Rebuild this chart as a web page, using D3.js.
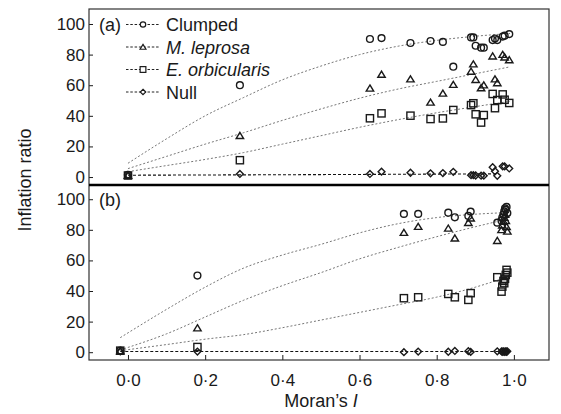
<!DOCTYPE html>
<html>
<head>
<meta charset="utf-8">
<script src="https://cdn.jsdelivr.net/npm/d3@7"></script>
<style>
  html, body { margin: 0; padding: 0; background: #fff; }
  svg { display: block; font-family: "Liberation Sans", Arial, sans-serif; }
</style>
</head>
<body>
<svg id="chart" width="561" height="414"></svg>
<script>
// ---- Panel (a): observed inflation ratios by Moran's I ----
const xA = [0, 0.29, 0.627, 0.657, 0.732, 0.784, 0.816, 0.843, 0.889, 0.895, 0.901, 0.915, 0.922, 0.945, 0.951, 0.957, 0.971, 0.976, 0.988];
const clumpedA = [1.5, 60, 90.2, 90.8, 87.6, 88.9, 88.3, 72.1, 91.2, 91.2, 85.8, 84.5, 84.5, 89.5, 90.5, 89.5, 91.8, 92.4, 93.4];
const leprosaA = [1, 27, 58, 67, 64, 48.8, 54.7, 60.4, 69, 73.8, 63.6, 58.2, 60.1, 79, 64, 61.5, 80, 78.3, 76.5];
const orbicularisA = [1, 11, 38.4, 41.6, 40.1, 37.9, 38.3, 43.8, 47, 48.2, 41, 35.6, 40.5, 54.3, 45, 50.3, 54, 50.5, 48.4];
const nullA = [1.3, 2, 2, 3.5, 2.8, 2.4, 2.6, 3.4, 1.2, 1.2, 1.0, 0.9, 0.9, 6.4, 3.8, 0.8, 7.0, 6.9, 5.6];

// Fitted curves for panel (a)
const fitXA = [0, 0.1, 0.2, 0.3, 0.4, 0.5, 0.6, 0.7, 0.8, 0.9, 0.99];
const fitClumpedA = [9, 25, 40, 52, 63.5, 72.5, 80, 85.5, 89.3, 92, 93.8];
const fitLeprosaA = [5.5, 13.5, 21.5, 29, 37, 44.5, 51.5, 57.5, 62.5, 67.5, 72];
const fitOrbicularisA = [3.5, 7.5, 11.5, 16, 21.5, 27, 32.5, 37.5, 42, 46, 49.5];
const fitNullXA = [0, 0.5, 0.96];
const fitNullA = [1.2, 1.6, 2.1];

// ---- Panel (b) ----
const xB = [-0.02, 0.18, 0.715, 0.752, 0.83, 0.847, 0.882, 0.888, 0.957, 0.968, 0.970, 0.973, 0.975, 0.977, 0.979, 0.981, 0.983];
const clumpedB = [1, 50.1, 90.4, 90.4, 91.2, 88.2, 89.1, 91.9, 84.7, 86, 88, 90, 92, 94, 93, 95, 91];
const leprosaB = [0.8, 15.8, 78.2, 82.1, 81, 74.5, 84.7, 87.6, 72.9, 80, 83, 85.5, 88, 90, 86, 82, 79];
const orbicularisB = [1, 3.4, 35.3, 35.9, 38.1, 35.9, 34.2, 38.6, 49, 39.6, 42.9, 46.6, 45.1, 48, 50.5, 53.8, 52];
const nullB = [0.5, 0.4, 0, 0.4, 0.3, 0.8, 0.7, 0.2, 0.6, 0.5, 0.3, 0.6, 0.2, 0.4, 0.5, 0.3, 0.6];

// Fitted curves for panel (b)
const fitXB = [-0.02, 0.1, 0.2, 0.3, 0.4, 0.5, 0.6, 0.7, 0.8, 0.9, 0.975];
const fitClumpedB = [9.5, 28, 42.5, 55, 63.5, 70.5, 78, 84, 88, 90.2, 91.2];
const fitLeprosaB = [1.5, 12, 23, 34, 43.5, 52, 61, 68.5, 75.5, 82, 86.5];
const fitOrbicularisB = [1, 5, 8.5, 11.5, 16, 21, 26, 31, 36, 42.5, 48.5];
const fitNullXB = [-0.02, 0.985];
const fitNullB = [0.5, 0.5];

// Axis ticks and legend
const xTicks = [0, 0.2, 0.4, 0.6, 0.8, 1.0];
const yTicks = [0, 20, 40, 60, 80, 100];
const seriesNames = ["Clumped", "M. leprosa", "E. orbicularis", "Null"];
const seriesItalic = [false, true, true, false];
const seriesShapes = ["circle", "triangle", "square", "diamond"];

// ---- Layout ----
const svg = d3.select("#chart");
const plotLeft = 89, plotRight = 549, plotTop = 9, plotMid = 185, plotBottom = 360;
const ink = "#1a1a1a";

const x = d3.scaleLinear().domain([-0.101, 1.091]).range([plotLeft, plotRight]);
const yA = d3.scaleLinear().domain([-5.2, 109.8]).range([plotMid, plotTop]);
const yB = d3.scaleLinear().domain([-5.1, 109.3]).range([plotBottom, plotMid]);

// Marker drawing
function marker(g, shape, cx, cy, s) {
  s = s || 1;
  if (shape === "circle") {
    g.append("circle").attr("cx", cx).attr("cy", cy).attr("r", 3.4 * s);
  } else if (shape === "triangle") {
    const w = 3.7 * s, h = 3.3 * s;
    g.append("path").attr("d", `M${cx},${cy - h}L${cx + w},${cy + h * 0.85}L${cx - w},${cy + h * 0.85}Z`);
  } else if (shape === "square") {
    const a = 3.6 * s;
    g.append("rect").attr("x", cx - a).attr("y", cy - a).attr("width", 2 * a).attr("height", 2 * a);
  } else {
    const a = 3.4 * s;
    g.append("path").attr("d", `M${cx},${cy - a}L${cx + a},${cy}L${cx},${cy + a}L${cx - a},${cy}Z`);
  }
}

function drawPanel(y, xs, seriesVals, fits, tag) {
  const g = svg.append("g");
  // Fitted curves: grey dotted for the three models, dark dashed for the null
  fits.forEach((f, i) => {
    const line = d3.line().x(d => x(d[0])).y(d => y(d[1])).curve(d3.curveMonotoneX);
    const pts = f.xs.map((v, k) => [v, f.ys[k]]);
    g.append("path").attr("d", line(pts)).attr("fill", "none")
      .attr("stroke", i === 3 ? "#111" : "#777")
      .attr("stroke-width", i === 3 ? 1.1 : 1)
      .attr("stroke-dasharray", i === 3 ? "3,2" : "2,2");
  });
  // Points
  seriesVals.forEach((vals, i) => {
    const mg = g.append("g").attr("fill", "none").attr("stroke", ink).attr("stroke-width", 1.4);
    vals.forEach((v, k) => marker(mg, seriesShapes[i], x(xs[k]), y(v)));
  });
  // Y axis (ticks point inward)
  const ax = svg.append("g").attr("transform", `translate(${plotLeft},0)`)
    .call(d3.axisLeft(y).tickValues(yTicks).tickSizeInner(-4).tickSizeOuter(0).tickPadding(4));
  ax.select(".domain").remove();
  ax.selectAll(".tick line").attr("stroke", ink);
  ax.selectAll("text").attr("font-size", 17).attr("fill", ink)
    .attr("font-family", "Liberation Sans, Arial, sans-serif");
  // Panel tag
  svg.append("text").attr("x", 99).attr("y", y(100) + 7).attr("font-size", 18).attr("fill", ink).text(tag);
}

drawPanel(yA, xA, [clumpedA, leprosaA, orbicularisA, nullA], [
  { xs: fitXA, ys: fitClumpedA }, { xs: fitXA, ys: fitLeprosaA },
  { xs: fitXA, ys: fitOrbicularisA }, { xs: fitNullXA, ys: fitNullA }
], "(a)");
drawPanel(yB, xB, [clumpedB, leprosaB, orbicularisB, nullB], [
  { xs: fitXB, ys: fitClumpedB }, { xs: fitXB, ys: fitLeprosaB },
  { xs: fitXB, ys: fitOrbicularisB }, { xs: fitNullXB, ys: fitNullB }
], "(b)");

// X axis at the bottom of panel (b)
const xa = svg.append("g").attr("transform", `translate(0,${plotBottom})`)
  .call(d3.axisBottom(x).tickValues(xTicks).tickSizeInner(-5).tickSizeOuter(0).tickPadding(14)
    .tickFormat(d => d3.format(".1f")(d).replace(".", "\u00b7")));
xa.select(".domain").remove();
xa.selectAll(".tick line").attr("stroke", ink);
xa.selectAll("text").attr("font-size", 17).attr("fill", ink)
  .attr("font-family", "Liberation Sans, Arial, sans-serif");

// Frame and the heavy divider between panels
svg.append("rect").attr("x", plotLeft).attr("y", plotTop)
  .attr("width", plotRight - plotLeft).attr("height", plotBottom - plotTop)
  .attr("fill", "none").attr("stroke", "#333").attr("stroke-width", 1.2);
svg.append("line").attr("x1", plotLeft).attr("x2", plotRight).attr("y1", plotMid).attr("y2", plotMid)
  .attr("stroke", "#000").attr("stroke-width", 2.6);

// Legend inside panel (a)
const lg = svg.append("g");
seriesNames.forEach((name, i) => {
  const cy = 24.5 + i * 22.5;
  lg.append("line").attr("x1", 126).attr("x2", 160).attr("y1", cy).attr("y2", cy)
    .attr("stroke", "#222").attr("stroke-width", 1).attr("stroke-dasharray", "2.5,1.8");
  const mg = lg.append("g").attr("fill", "#fff").attr("stroke", ink).attr("stroke-width", 1.2);
  marker(mg, seriesShapes[i], 143, cy, 0.8);
  lg.append("text").attr("x", 166).attr("y", cy + 6.5).attr("font-size", 18).attr("fill", ink)
    .attr("font-style", seriesItalic[i] ? "italic" : "normal").text(name);
});

// Axis titles
svg.append("text").attr("transform", `translate(31,180) rotate(-90)`).attr("text-anchor", "middle")
  .attr("font-size", 18).attr("fill", ink).text("Inflation ratio");
const xt = svg.append("text").attr("x", 321).attr("y", 407).attr("text-anchor", "middle")
  .attr("font-size", 18).attr("fill", ink);
xt.append("tspan").text("Moran\u2019s ");
xt.append("tspan").attr("font-style", "italic").text("I");
</script>
</body>
</html>
